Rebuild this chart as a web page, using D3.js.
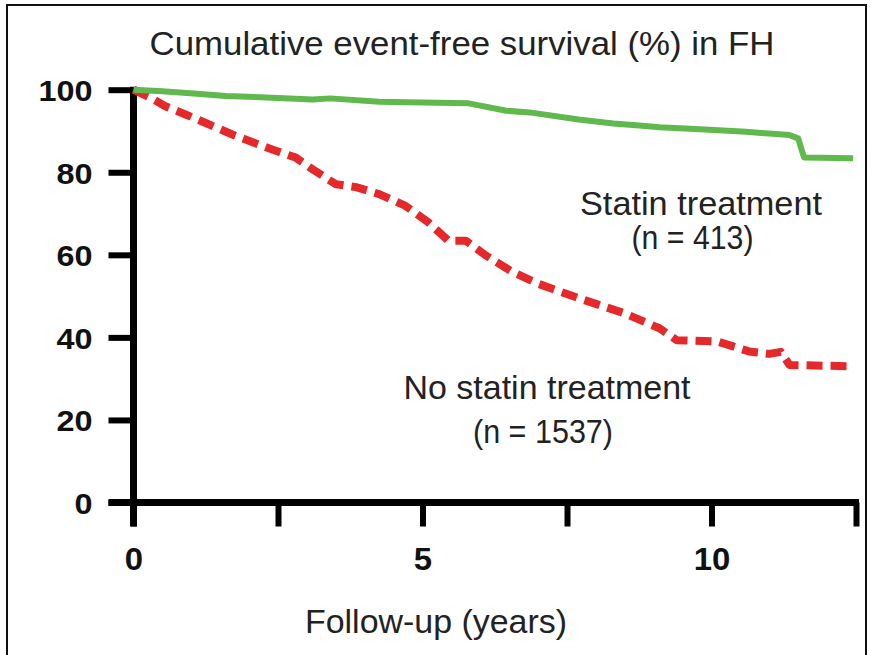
<!DOCTYPE html>
<html><head><meta charset="utf-8">
<script src="https://cdn.jsdelivr.net/npm/d3@7"></script>
<style>html,body{margin:0;padding:0;background:#fff;}svg{display:block;}</style>
</head><body>
<script>
const titleText = "Cumulative event-free survival (%) in FH";
const xTitle = "Follow-up (years)";
const xTickValues = [0, 2.5, 5, 7.5, 10, 12.5];
const xTickLabels = {0: "0", 5: "5", 10: "10"};
const yTickValues = [0, 20, 40, 60, 80, 100];

const statinYears = [0, 0.5, 1.1, 1.6, 2.5, 3.1, 3.4, 4.25, 5.0, 5.8, 6.45, 6.85, 7.7, 8.3, 8.75, 9.1, 9.8, 10.6, 11.35, 11.5, 11.6, 12.45];
const statinSurv  = [100, 99.6, 99.0, 98.5, 98.0, 97.6, 97.9, 97.1, 96.9, 96.7, 94.9, 94.5, 92.8, 91.8, 91.3, 90.9, 90.4, 89.8, 89.0, 88.2, 83.6, 83.4];

const noStatinYears = [0, 0.3, 0.55, 0.9, 1.24, 1.7, 2.4, 2.8, 3.1, 3.5, 3.85, 4.25, 4.7, 5.1, 5.45, 5.75, 6.1, 6.55, 7.0, 7.4, 7.7, 8.5, 9.1, 9.4, 10.1, 10.65, 11.0, 11.2, 11.35, 12.45];
const noStatinSurv  = [100, 98, 96, 94, 92, 89.2, 85.5, 83.6, 80.7, 77.1, 76.4, 74.7, 71.9, 67.9, 63.4, 63.4, 59.8, 55.9, 53, 51, 49.5, 45.8, 42.2, 39.3, 39, 36.6, 36, 36.5, 33.3, 33];

const labels = [
  {text: "Statin treatment", x: 701, y: 215, w: 242},
  {text: "(n = 413)", x: 692.5, y: 249, w: 122},
  {text: "No statin treatment", x: 547, y: 399, w: 287},
  {text: "(n = 1537)", x: 543, y: 443, w: 140}
];

const W = 874, H = 655;
const svg = d3.select("body").append("svg").attr("width", W).attr("height", H);
svg.append("rect").attr("x", 7).attr("y", 5).attr("width", 859).attr("height", 700)
  .attr("fill", "#fff").attr("stroke", "#111").attr("stroke-width", 2);

const x = d3.scaleLinear().domain([0, 12.5]).range([133.5, 856]);
const y = d3.scaleLinear().domain([0, 100]).range([502.5, 89.7]);

const font = "'Liberation Sans', Arial, Helvetica, sans-serif";

function fitText(sel, w) {
  sel.attr("textLength", w).attr("lengthAdjust", "spacingAndGlyphs");
}

// title
svg.append("text").attr("x", 462).attr("y", 55).attr("text-anchor", "middle")
  .attr("font-family", font).attr("font-size", 33).attr("fill", "#222")
  .text(titleText).call(fitText, 625);

// axes
const yAxis = d3.axisLeft(y).tickValues(yTickValues).tickSize(25).tickPadding(16).tickFormat(d3.format("d"));
const gy = svg.append("g").attr("transform", `translate(${x(0)},0)`).call(yAxis);
gy.select(".domain").remove();
gy.append("line").attr("x1", 0).attr("x2", 0).attr("y1", y(100) - 3).attr("y2", y(0) + 24)
  .attr("stroke", "#000").attr("stroke-width", 7);
gy.selectAll(".tick line").attr("stroke", "#000").attr("stroke-width", 6);
gy.selectAll(".tick text").attr("font-family", font).attr("font-weight", "bold")
  .attr("font-size", 30).attr("fill", "#111").attr("dy", "0.36em")
  .each(function(d){ d3.select(this).attr("textLength", String(d).length * 18).attr("lengthAdjust", "spacingAndGlyphs"); });

const xAxis = d3.axisBottom(x).tickValues(xTickValues).tickSize(24).tickPadding(21)
  .tickFormat(d => xTickLabels[d] || "");
const gx = svg.append("g").attr("transform", `translate(0,${y(0)})`).call(xAxis);
gx.select(".domain").remove();
gx.append("line").attr("x1", x(0) - 25).attr("x2", x(12.5) + 3).attr("y1", 0).attr("y2", 0)
  .attr("stroke", "#000").attr("stroke-width", 7);
gx.selectAll(".tick line").attr("stroke", "#000").attr("stroke-width", 6);
gx.selectAll(".tick text").attr("font-family", font).attr("font-weight", "bold")
  .attr("font-size", 32).attr("fill", "#111")
  .each(function(d){ const s = xTickLabels[d] || ""; if (s) d3.select(this).attr("textLength", s.length * 18.3).attr("lengthAdjust", "spacingAndGlyphs"); });

svg.append("text").attr("x", 436).attr("y", 633).attr("text-anchor", "middle")
  .attr("font-family", font).attr("font-size", 33).attr("fill", "#222")
  .text(xTitle).call(fitText, 262);

// curves
const line = d3.line().x(d => x(d[0])).y(d => y(d[1])).curve(d3.curveLinear);
const statinData = statinYears.map((t, i) => [t, statinSurv[i]]);
const noStatinData = noStatinYears.map((t, i) => [t, noStatinSurv[i]]);

svg.append("path").datum(noStatinData).attr("d", line).attr("fill", "none")
  .attr("stroke", "#e5292b").attr("stroke-width", 8).attr("stroke-dasharray", "16,8")
  .attr("stroke-linejoin", "round");
svg.append("path").datum(statinData).attr("d", line).attr("fill", "none")
  .attr("stroke", "#5fb94c").attr("stroke-width", 6).attr("stroke-linejoin", "round");

labels.forEach(l => {
  svg.append("text").attr("x", l.x).attr("y", l.y).attr("text-anchor", "middle")
    .attr("font-family", font).attr("font-size", 33).attr("fill", "#222")
    .text(l.text).call(fitText, l.w);
});
</script>
</body></html>
